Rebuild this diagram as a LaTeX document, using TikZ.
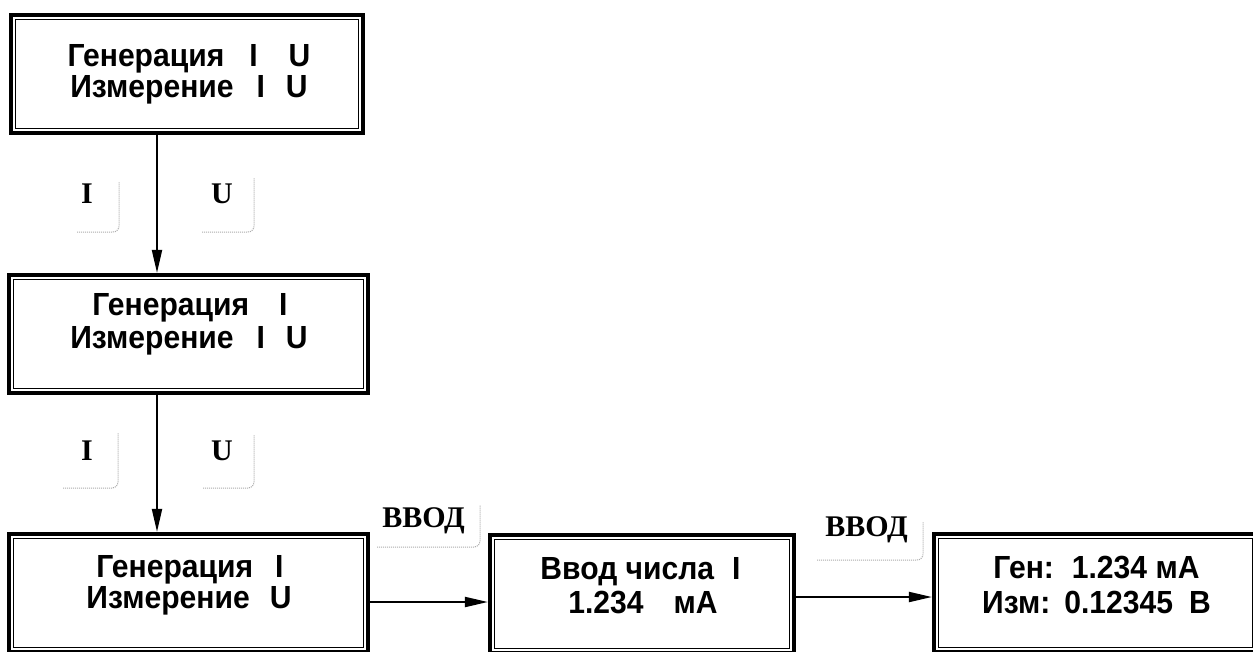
\documentclass[tikz,border=0pt]{standalone}
\usepackage{fontspec}
\setmainfont{Liberation Sans}[FakeStretch=0.94]
\newfontfamily\serifb{Liberation Serif}
\usetikzlibrary{arrows.meta}
\begin{document}
\begin{tikzpicture}[x=1pt,y=-1pt,
  frame/.style={draw, line width=4.2pt, inner sep=0pt},
  innerframe/.style={draw, line width=1.4pt},
  txt/.style={font=\bfseries\fontsize{32}{36}\selectfont, anchor=base, inner sep=0pt},
  lab/.style={font=\serifb\bfseries\fontsize{30}{32}\selectfont, anchor=base, inner sep=0pt},
  keycap/.style={draw=gray!65, densely dotted, line width=1pt, rounded corners=6pt},
  arr/.style={line width=2pt, -{Triangle[length=23pt,width=10pt]}}]
\useasboundingbox (0,0) rectangle (1253,651);
\clip (0,0) rectangle (1253,651);
\fill[white] (0,0) rectangle (1253,651);
% frames
\node[frame, minimum width=352pt, minimum height=118pt] (B1) at (187,74) {};
\node[frame, minimum width=359pt, minimum height=118pt] (B2) at (188.5,334) {};
\node[frame, minimum width=359pt, minimum height=118pt] (B3) at (188.5,593) {};
\node[frame, minimum width=304pt, minimum height=118pt] (B4) at (642,594) {};
\node[frame, minimum width=323pt, minimum height=118pt] (B5) at (1095.5,593) {};
\foreach \n in {B1,B2,B3,B4,B5}
  \draw[innerframe] ([shift={(6.5pt,-6.5pt)}]\n.north west) rectangle ([shift={(-6.5pt,6.5pt)}]\n.south east);
% texts
\node[txt] (t1a) at (189,66) {Генерация\hspace{25pt}I\hspace{31pt}U};
\node[txt] (t1b) at (189,97) {Измерение\hspace{23pt}I\hspace{21pt}U};
\node[txt] (t2a) at (190,315) {Генерация\hspace{30pt}I};
\node[txt] (t2b) at (189,348) {Измерение\hspace{23pt}I\hspace{21pt}U};
\node[txt] (t3a) at (190,577) {Генерация\hspace{22pt}I};
\node[txt] (t3b) at (189,608) {Измерение\hspace{20pt}U};
\node[txt] (t4a) at (640.5,579) {Ввод числа\hspace{18pt}I};
\node[txt] (t4b) at (643,613) {1.234\hspace{30pt}мА};
\node[txt] (t5a) at (1096.5,578) {Ген:\hspace{18pt}1.234 мА};
\node[txt] (t5b) at (1096.5,613) {Изм:\hspace{14pt}0.12345\hspace{16pt}В};
% labels
\node[lab] (i1) at (87,203) {I};
\node[lab] (u1) at (222,203) {U};
\node[lab] (i2) at (87,460) {I};
\node[lab] (u2) at (222,460) {U};
\node[lab] (v1) at (423.5,527) {ВВОД};
\node[lab] (v2) at (866.5,536) {ВВОД};
\draw[keycap] (77,232) -- (119,232) -- (119,182);
\draw[keycap] (202,232) -- (254,232) -- (254,178);
\draw[keycap] (63,488) -- (118,488) -- (118,433);
\draw[keycap] (203,488) -- (254,488) -- (254,435);
\draw[keycap] (377,547) -- (480,547) -- (480,505);
\draw[keycap] (817,560) -- (923,560) -- (923,522);
% connectors
\coordinate (ax) at (157,0);
\coordinate (ay1) at (0,602);
\coordinate (ay2) at (0,597);
\draw[arr] (B1.south -| ax) -- (B2.north -| ax);
\draw[arr] (B2.south -| ax) -- (B3.north -| ax);
\draw[arr] (B3.east |- ay1) -- (B4.west |- ay1);
\draw[arr] (B4.east |- ay2) -- (B5.west |- ay2);
\end{tikzpicture}
\end{document}
